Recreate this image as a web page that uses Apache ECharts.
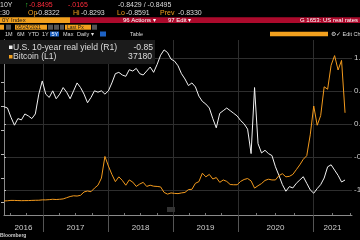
<!DOCTYPE html>
<html><head><meta charset="utf-8">
<script src="https://cdn.jsdelivr.net/npm/echarts@6/dist/echarts.min.js"></script>
<style>html,body{margin:0;padding:0;background:#000;}#c{width:360px;height:240px;}</style>
</head><body><div id="c"></div><script>
// Sampled every equal step along the time axis (index units), May 2016 -> 24 May 2021
const realYield = [0.26,0.24,0.10,-0.02,0.08,0.06,0.15,0.12,0.08,0.15,0.45,0.65,
  0.45,0.40,0.50,0.38,0.45,0.55,0.48,0.38,0.50,0.62,0.55,0.45,0.32,0.40,0.50,0.48,0.50,0.45,
  0.50,0.62,0.76,0.78,0.74,0.72,0.82,0.80,0.84,0.76,0.74,0.80,0.86,0.78,0.90,1.04,1.12,1.08,0.98,
  0.95,0.88,0.76,0.68,0.58,0.62,0.56,0.42,0.34,0.30,0.24,0.08,-0.06,0.16,0.20,0.24,0.20,0.16,
  0.12,0.05,0.00,-0.08,-0.45,0.55,-0.30,-0.44,-0.40,-0.45,-0.48,-0.65,-0.78,-0.92,-1.02,-0.95,-0.97,-0.90,-0.85,-0.80,-0.90,-1.00,
  -1.05,-0.98,-0.92,-0.82,-0.65,-0.62,-0.70,-0.78,-0.88,-0.85];
const bitcoin = [450,530,680,670,620,575,600,610,680,730,750,900,
  900,1000,1150,1050,1150,1300,1800,2300,2600,2500,2800,4200,4600,4300,5800,7000,10000,19000,
  15000,11500,8500,10500,9000,7000,9200,8300,6500,7500,8200,6500,7000,6600,6500,6300,4000,3300,3800,
  3600,3500,3800,4000,5200,5300,7800,8500,12000,10500,11500,9600,10200,8200,9200,8600,7300,7200,
  7200,8600,9400,9800,8800,5800,6800,7700,9000,9500,9200,9200,11000,11800,10500,10700,11500,13500,15500,17800,19300,28000,
  40000,32000,36000,48000,47000,57000,61000,55000,59000,37180];
const xMax = 100;                       // index units spanned by the plot width
const yearStarts = [11.2, 29.9, 48.6, 67.2, 88.8];   // index where each new year begins
const yearLabels = ['2016','2017','2018','2019','2020','2021'];
const rightTicks = [-1, -0.5, 0, 0.5, 1];
const leftTicks = [0, 10000, 20000, 30000, 40000, 50000, 60000];

const bounds = [0].concat(yearStarts, [xMax]);
const yearMids = yearLabels.map((l, k) => (bounds[k] + bounds[k + 1]) / 2);
const quarterTicks = [];
for (let k = 0; k < bounds.length - 1; k++) {
  let a = bounds[k], b = bounds[k + 1], w = b - a;
  if (k === 0) { w = yearStarts[1] - yearStarts[0]; for (let q = 1; q <= 3; q++) { const v = b - w * q / 4; if (v > 0) quarterTicks.push(v); } continue; }
  if (k === bounds.length - 2) { w = yearStarts[yearStarts.length - 1] - yearStarts[yearStarts.length - 2]; }
  for (let q = 1; q <= 3; q++) { const v = a + w * q / 4; if (v < b) quarterTicks.push(v); }
}

const F = "'Liberation Sans', Arial, sans-serif";
function t(x, y, text, fill, size, align, weight) {
  return { type: 'text', x: x, y: y, z: 100, silent: true,
    style: { text: text, fill: fill, font: (weight || 'normal') + ' ' + size + 'px ' + F,
      textAlign: align || 'left', textVerticalAlign: 'middle' } };
}
function r(x, y, w, h, fill) {
  return { type: 'rect', z: 99, silent: true, shape: { x: x, y: y, width: w, height: h }, style: { fill: fill } };
}
const OR = '#f2a01e', RED = '#ff2b3b', WH = '#dddddd', BAR = '#ac0a2c', BLUE = '#1d62c4';
const graphics = [
  r(0, 0, 360, 39, '#000'),
  // row A
  t(0, 5, '10Y', WH, 7), t(25, 5, '↑', '#37c837', 7), t(29, 5, '-0.8495', RED, 7),
  t(68, 5, '-.0165', RED, 7), t(118, 5, '-0.8429 / -0.8495', WH, 7),
  // row B
  t(0, 13.5, ':30', WH, 7), t(28, 13.5, 'Op', OR, 7), t(36, 13.5, '-0.8322', WH, 7),
  t(73, 13.5, 'Hi', OR, 7), t(81, 13.5, '-0.8293', WH, 7),
  t(117, 13.5, 'Lo', OR, 7), t(126, 13.5, '-0.8591', WH, 7),
  t(160, 13.5, 'Prev', OR, 7), t(178, 13.5, '-0.8330', WH, 7),
  // row C
  r(0, 17.3, 70, 5.6, OR), r(70, 17.3, 290, 5.6, BAR),
  t(2, 20.1, '0Y Index', '#1a1a1a', 6), t(123, 20.1, '96 Actions ▾', '#fff', 6),
  t(168, 20.1, '97 Edit ▾', '#fff', 6), t(358, 20.1, 'G 1653: US real rates', '#fff', 6, 'right'),
  // row D
  r(0, 24.7, 4, 5, OR), r(6, 24.7, 5, 5, '#555'), r(15, 24.7, 32, 5, OR),
  t(16, 27.2, '05/24/2021', '#1a1a1a', 5), r(48, 24.7, 5, 5, '#555'), r(54, 24.7, 5, 5, '#555'), r(60, 24.7, 4, 5, '#555'),
  r(65, 24.7, 26, 5, OR), t(67, 27.2, 'Last Px', '#1a1a1a', 5), r(92, 24.7, 5, 5, '#555'),
  // row E
  t(5, 34, '1M', WH, 5.5), t(17, 34, '6M', WH, 5.5), t(28, 34, 'YTD', WH, 5.5), t(42, 34, '1Y', WH, 5.5),
  r(50, 31.5, 9, 5, BLUE), t(51.5, 34, '5Y', '#fff', 5.5), t(63, 34, 'Max', WH, 5.5),
  t(77, 34, 'Daily ▾', WH, 5.5), r(100, 31.5, 6, 5, BLUE), t(130, 34, 'Table', WH, 5.5),
  r(270, 31.8, 58, 4.5, OR), t(331, 34, '⚙', WH, 5.5), t(336, 34, '✓ Edit Ch', WH, 5.5),
  // legend
  r(0, 40, 155, 24, '#1b1b1b'),
  r(9, 45.5, 3.5, 3.5, '#f0f0f0'), t(13, 47.5, 'U.S. 10-year real yield (R1)', WH, 8.6),
  t(153, 47.5, '-0.85', WH, 8.6, 'right'),
  r(9, 55, 3.5, 3.5, OR), t(13, 57, 'Bitcoin (L1)', WH, 8.6), t(152, 57, '37180', WH, 8.6, 'right'),
  // small icon and footer
  r(167, 207, 8, 5, '#333'),
  t(0, 235.5, 'Bloomberg', '#cccccc', 5, 'left', 'bold')
];

const chart = echarts.init(document.getElementById('c'), null, { renderer: 'canvas' });
chart.setOption({
  backgroundColor: '#000',
  animation: false,
  grid: { left: 4, right: 8, top: 40, bottom: 25, containLabel: false, outerBoundsMode: 'none' },
  xAxis: [{
    type: 'value', min: 0, max: xMax, position: 'bottom',
    axisLine: { show: true, onZero: false, lineStyle: { color: '#8a8a8a', width: 1 } },
    axisTick: { show: true, customValues: yearStarts, length: 17, lineStyle: { color: '#555' } },
    axisLabel: { show: true, customValues: yearMids, margin: 9, color: '#cfcfcf', fontSize: 8, fontFamily: F,
      formatter: function (v) { let best = 0; yearMids.forEach((m, k) => { if (Math.abs(m - v) < Math.abs(yearMids[best] - v)) best = k; }); return yearLabels[best]; } },
    splitLine: { show: true, lineStyle: { color: '#2e2e2e', width: 1 } }
  }, {
    type: 'value', min: 0, max: xMax, position: 'bottom', offset: 0,
    axisLine: { show: false, onZero: false },
    axisTick: { show: true, inside: true, customValues: quarterTicks, length: 2, lineStyle: { color: '#777' } },
    axisLabel: { show: false }, splitLine: { show: false }
  }],
  yAxis: [{
    type: 'value', position: 'left', min: -5400, max: 67500,
    axisLine: { show: true, lineStyle: { color: '#8a8a8a' } },
    axisTick: { show: true, customValues: leftTicks, length: 3, lineStyle: { color: '#bbb' } },
    axisLabel: { show: false }, splitLine: { show: false }
  }, {
    type: 'value', position: 'right', min: -1.38, max: 1.27,
    axisLine: { show: true, lineStyle: { color: '#8a8a8a' } },
    axisTick: { show: true, customValues: rightTicks, length: 2, lineStyle: { color: '#bbb' } },
    axisLabel: { show: true, customValues: rightTicks, margin: 2, color: '#cfcfcf', fontSize: 8, fontFamily: F,
      formatter: function (v) { return v.toFixed(2); } },
    splitLine: { show: true, lineStyle: { color: '#2e2e2e', width: 1 } }
  }],
  series: [{
    name: 'U.S. 10-year real yield (R1)', type: 'line', xAxisIndex: 0, yAxisIndex: 1,
    data: realYield.map((v, i) => [i, v]), showSymbol: false, symbol: 'none',
    lineStyle: { color: '#f2f2f2', width: 1 }, z: 3
  }, {
    name: 'Bitcoin (L1)', type: 'line', xAxisIndex: 0, yAxisIndex: 0,
    data: bitcoin.map((v, i) => [i, v]), showSymbol: false, symbol: 'none',
    lineStyle: { color: '#f39a1d', width: 1 }, z: 4
  }],
  graphic: graphics
});
</script></body></html>
